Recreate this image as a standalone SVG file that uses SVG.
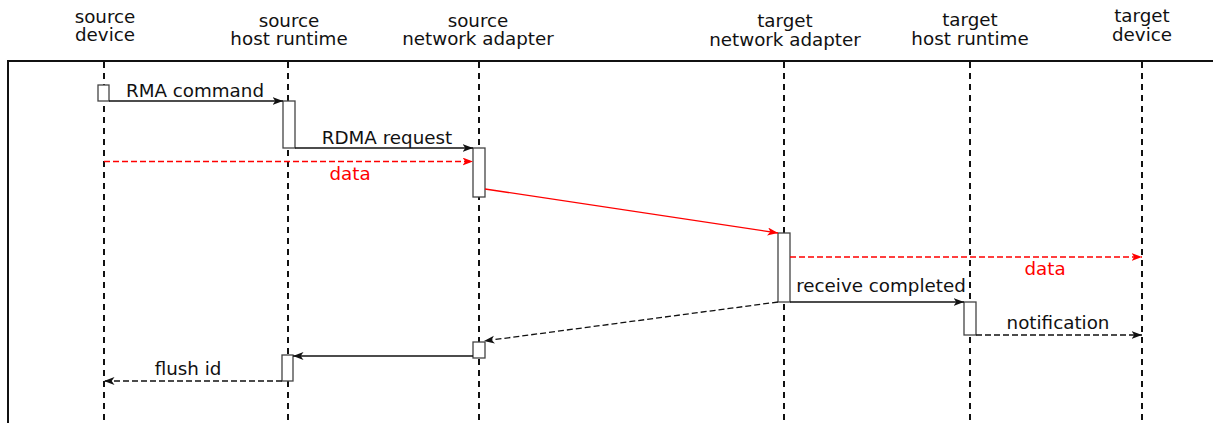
<svg xmlns="http://www.w3.org/2000/svg" width="1213" height="423" viewBox="0 0 1213 423">
  <style>
    text { font-family: "DejaVu Sans", "Liberation Sans", sans-serif; font-size: 18.3px; fill: #111; }
    .hdr { text-anchor: middle; }
    .lbl { text-anchor: middle; }
    .red { fill: #ff0000; }
    .lifeline { stroke: #111; stroke-width: 2; stroke-dasharray: 6 5; fill: none; }
    .act { fill: #fff; stroke: #444; stroke-width: 1.3; }
    .msg { stroke: #111; stroke-width: 1.3; fill: none; }
    .msg.dash { stroke-dasharray: 6 3; }
    .msg.red { stroke: #ff0000; fill: none; }
  </style>
  <defs>
    <marker id="arrow" markerUnits="userSpaceOnUse" markerWidth="12" markerHeight="9" refX="10.5" refY="4" orient="auto">
      <path d="M0,0 L10.5,4 L0,8 L2.8,4 z" fill="#111"/>
    </marker>
    <marker id="arrowRed" markerUnits="userSpaceOnUse" markerWidth="12" markerHeight="9" refX="10.5" refY="4" orient="auto">
      <path d="M0,0 L10.5,4 L0,8 L2.8,4 z" fill="#ff0000"/>
    </marker>
  </defs>

  <rect width="1213" height="423" fill="#fff"/>

  <!-- frame -->
  <rect x="8" y="61" width="1230" height="400" fill="none" stroke="#111" stroke-width="2"/>

  <!-- participants -->
  <g id="source-device">
    <text class="hdr" x="105" y="23">source</text>
    <text class="hdr" x="105" y="41">device</text>
    <line class="lifeline" x1="104" y1="62" x2="104" y2="423"/>
  </g>
  <g id="source-host-runtime">
    <text class="hdr" x="289" y="27">source</text>
    <text class="hdr" x="289" y="45">host runtime</text>
    <line class="lifeline" x1="288" y1="62" x2="288" y2="423"/>
  </g>
  <g id="source-network-adapter">
    <text class="hdr" x="478" y="27">source</text>
    <text class="hdr" x="478" y="45">network adapter</text>
    <line class="lifeline" x1="479" y1="62" x2="479" y2="423"/>
  </g>
  <g id="target-network-adapter">
    <text class="hdr" x="785" y="27">target</text>
    <text class="hdr" x="785" y="46">network adapter</text>
    <line class="lifeline" x1="784" y1="62" x2="784" y2="423"/>
  </g>
  <g id="target-host-runtime">
    <text class="hdr" x="970" y="26">target</text>
    <text class="hdr" x="970" y="45">host runtime</text>
    <line class="lifeline" x1="970" y1="62" x2="970" y2="423"/>
  </g>
  <g id="target-device">
    <text class="hdr" x="1142" y="22">target</text>
    <text class="hdr" x="1142" y="41">device</text>
    <line class="lifeline" x1="1142" y1="62" x2="1142" y2="423"/>
  </g>

  <!-- activation bars -->
  <g id="activations">
    <rect class="act" x="98" y="85" width="11" height="16"/>
    <rect class="act" x="283" y="101" width="12" height="47"/>
    <rect class="act" x="473" y="148" width="12" height="49"/>
    <rect class="act" x="778" y="233" width="12" height="69"/>
    <rect class="act" x="964" y="302" width="12" height="33"/>
    <rect class="act" x="473" y="342" width="12" height="16"/>
    <rect class="act" x="282" y="355" width="11" height="26"/>
  </g>

  <!-- messages -->
  <g id="connectors">
    <line class="msg" x1="109" y1="101" x2="283" y2="101" marker-end="url(#arrow)"/>
    <line class="msg" x1="295" y1="148" x2="473" y2="148" marker-end="url(#arrow)"/>
    <line class="msg red dash" x1="104" y1="161.5" x2="473" y2="161.5" marker-end="url(#arrowRed)"/>
    <line class="msg red" x1="485" y1="189" x2="778" y2="233" marker-end="url(#arrowRed)"/>
    <line class="msg red dash" x1="790" y1="257" x2="1142" y2="257" marker-end="url(#arrowRed)"/>
    <line class="msg" x1="790" y1="302" x2="964" y2="302" marker-end="url(#arrow)"/>
    <line class="msg dash" x1="976" y1="335" x2="1142" y2="335" marker-end="url(#arrow)"/>
    <line class="msg dash" x1="778" y1="302" x2="484" y2="341" marker-end="url(#arrow)"/>
    <line class="msg" x1="473" y1="356" x2="293" y2="356" marker-end="url(#arrow)"/>
    <line class="msg dash" x1="282" y1="381" x2="104" y2="381" marker-end="url(#arrow)"/>
  </g>

  <!-- message labels -->
  <g id="labels">
    <text class="lbl" x="195" y="97">RMA command</text>
    <text class="lbl" x="387" y="144">RDMA request</text>
    <text class="lbl red" x="350" y="180">data</text>
    <text class="lbl red" x="1045" y="275">data</text>
    <text class="lbl" x="881" y="292">receive completed</text>
    <text class="lbl" x="1058" y="329">notification</text>
    <text class="lbl" x="188" y="375">flush id</text>
  </g>
</svg>
